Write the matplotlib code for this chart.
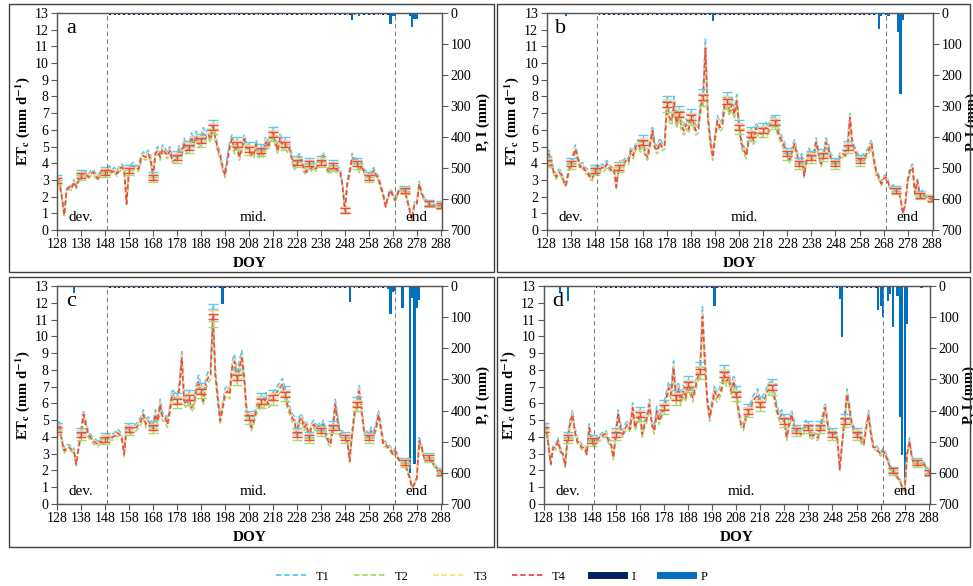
#Import packages
import numpy as np
import matplotlib
matplotlib.use('Agg')
import matplotlib.pyplot as plt
from matplotlib.patches import Rectangle
from matplotlib.lines import Line2D

plt.rcParams['font.family'] = ['Liberation Serif', 'DejaVu Serif']
plt.rcParams['mathtext.fontset'] = 'stix'

#-----DATA-----

#Day of year, 128 to 288
doy = np.arange(128, 289)

#Daily crop ET (mm/d)
et_a = [3.0, 2.9, 2.0, 0.9, 2.4, 2.6, 2.5, 2.9, 2.6, 3.0,
        3.3, 3.3, 3.4, 3.2, 3.4, 3.5, 3.3, 3.1, 3.4, 3.6,
        3.5, 3.6, 3.7, 3.5, 3.6, 3.4, 3.7, 3.8, 3.6, 1.6,
        3.6, 3.8, 3.9, 3.7, 3.7, 4.3, 4.5, 4.4, 4.6, 4.3,
        3.2, 4.6, 4.8, 4.4, 4.9, 4.7, 4.5, 4.8, 4.3, 4.2,
        4.4, 4.9, 4.6, 5.3, 4.8, 5.0, 5.6, 5.2, 5.7, 5.2,
        5.4, 5.9, 5.6, 5.8, 5.5, 6.2, 5.6, 4.9, 4.5, 3.8,
        3.3, 4.2, 5.1, 5.5, 4.8, 5.2, 4.4, 4.9, 5.5, 5.0,
        4.9, 4.6, 4.5, 5.2, 4.5, 4.8, 4.6, 5.4, 5.0, 5.5,
        5.8, 5.3, 4.8, 5.6, 5.1, 5.2, 4.9, 4.9, 4.3, 3.8,
        4.1, 4.4, 4.2, 3.6, 3.5, 4.0, 3.7, 3.9, 3.7, 4.0,
        4.1, 4.5, 3.9, 3.6, 3.5, 3.9, 3.7, 3.6, 3.6, 2.7,
        1.2, 2.8, 3.5, 4.4, 4.2, 4.0, 3.6, 3.9, 3.5, 3.4,
        3.2, 3.4, 3.6, 3.3, 3.1, 2.6, 2.1, 1.4, 2.0, 2.4,
        2.1, 1.8, 2.2, 2.5, 2.5, 2.4, 1.8, 1.2, 0.6, 1.6,
        1.6, 2.8, 2.2, 1.9, 1.8, 1.6, 1.5, 1.5, 1.4, 1.5, 1.5]

et_b = [4.1, 4.6, 4.0, 3.5, 3.2, 3.5, 3.4, 3.0, 2.7, 3.4,
        4.0, 4.4, 4.9, 4.3, 3.8, 3.9, 3.6, 3.5, 3.2, 3.1,
        3.6, 3.7, 3.6, 3.8, 3.7, 4.0, 3.8, 3.6, 3.7, 2.6,
        3.8, 4.1, 4.0, 4.2, 4.1, 4.8, 4.5, 5.0, 5.2, 4.9,
        5.3, 4.6, 4.4, 5.2, 6.0, 5.0, 4.8, 5.3, 5.0, 5.1,
        7.6, 6.8, 6.6, 7.7, 6.4, 7.0, 6.3, 6.0, 6.4, 6.1,
        6.8, 6.5, 6.0, 6.1, 7.4, 8.0, 11.0, 6.8, 5.4, 4.4,
        5.6, 6.6, 6.2, 6.4, 7.6, 7.8, 7.2, 7.6, 7.0, 7.8,
        6.2, 5.2, 4.8, 4.5, 5.5, 5.8, 5.4, 6.2, 5.9, 5.8,
        6.0, 6.2, 5.9, 6.4, 6.5, 6.5, 6.0, 5.6, 5.3, 5.0,
        4.6, 4.2, 4.8, 5.2, 4.6, 4.0, 4.4, 3.3, 4.2, 4.7,
        4.4, 4.5, 5.3, 4.6, 4.0, 4.5, 5.3, 5.0, 4.4, 4.2,
        4.0, 4.1, 4.5, 4.6, 4.5, 5.0, 6.8, 5.2, 4.8, 4.5,
        4.2, 4.3, 4.4, 4.6, 4.9, 5.2, 4.2, 3.4, 3.2, 2.8,
        3.1, 3.2, 2.8, 2.5, 2.6, 2.4, 2.5, 1.9, 1.0, 1.6,
        3.0, 3.6, 3.8, 2.2, 3.0, 2.1, 2.3, 2.0, 2.0, 1.9, 1.9]

et_c = [4.5, 4.8, 3.8, 3.2, 3.4, 3.4, 3.3, 3.2, 2.4, 3.4,
        4.2, 5.4, 4.8, 4.2, 4.0, 3.8, 3.7, 3.6, 3.8, 3.7,
        3.9, 3.9, 4.0, 4.0, 4.1, 4.3, 4.2, 4.0, 3.0, 4.6,
        4.5, 4.4, 4.5, 4.6, 4.8, 5.0, 5.4, 4.8, 5.0, 4.8,
        4.6, 5.4, 5.0, 6.0, 5.2, 5.2, 4.8, 5.6, 6.6, 6.4,
        6.2, 7.0, 8.8, 6.2, 6.0, 6.4, 5.8, 6.0, 6.8, 7.4,
        6.8, 6.2, 7.2, 7.6, 7.8, 11.3, 7.8, 6.4, 5.0, 5.8,
        6.6, 6.8, 6.6, 8.2, 8.6, 7.6, 8.2, 8.8, 7.6, 5.6,
        5.2, 4.6, 5.0, 5.6, 5.8, 6.2, 6.0, 6.4, 6.0, 6.2,
        6.4, 6.6, 6.8, 7.0, 7.2, 6.6, 6.0, 5.6, 5.2, 5.0,
        4.2, 5.0, 5.2, 4.6, 4.8, 4.0, 4.6, 4.8, 4.5, 4.7,
        4.4, 4.8, 4.2, 3.8, 3.6, 4.6, 6.0, 5.0, 4.2, 4.2,
        4.0, 3.8, 2.6, 4.2, 5.4, 6.0, 6.8, 5.6, 4.4, 4.2,
        4.0, 4.4, 4.2, 4.6, 5.4, 4.6, 3.6, 3.6, 3.4, 3.3,
        3.0, 3.2, 2.8, 2.6, 2.4, 2.5, 2.0, 1.6, 1.0, 1.2,
        1.6, 3.8, 3.4, 2.8, 2.6, 2.8, 2.6, 2.4, 2.2, 2.0, 1.9]

et_d = [4.5, 4.6, 3.6, 2.4, 3.4, 3.4, 3.8, 3.2, 3.0, 2.3,
        4.0, 4.8, 5.4, 4.4, 3.8, 3.6, 3.4, 3.4, 3.0, 4.6,
        3.8, 3.6, 3.8, 4.0, 4.0, 4.2, 4.2, 3.8, 3.6, 2.8,
        4.2, 5.4, 4.6, 4.2, 4.6, 4.8, 4.5, 5.8, 4.6, 5.0,
        5.4, 4.2, 4.8, 5.2, 6.0, 4.8, 4.4, 5.6, 5.0, 5.4,
        5.8, 6.4, 7.0, 6.6, 8.2, 6.4, 7.0, 6.2, 6.8, 6.4,
        7.2, 6.8, 6.4, 7.0, 7.6, 8.0, 11.3, 8.6, 6.2, 5.2,
        6.0, 6.8, 6.4, 6.6, 7.0, 7.8, 7.4, 7.6, 6.8, 7.4,
        6.6, 5.6, 4.8, 4.6, 5.2, 5.6, 5.8, 6.2, 6.4, 6.6,
        6.0, 6.2, 6.4, 6.8, 7.0, 7.0, 6.4, 5.6, 5.2, 5.4,
        5.0, 4.0, 4.8, 5.4, 4.8, 4.4, 4.6, 4.2, 4.4, 4.8,
        4.6, 4.0, 4.2, 4.0, 4.0, 4.6, 5.2, 5.8, 4.8, 4.2,
        4.2, 4.2, 4.0, 2.1, 3.6, 5.0, 6.6, 5.8, 4.8, 4.4,
        4.2, 4.2, 3.8, 3.6, 4.6, 5.4, 4.2, 3.4, 3.4, 3.2,
        3.0, 3.2, 3.0, 2.6, 2.2, 2.0, 1.8, 1.6, 1.4, 1.0,
        0.8, 3.0, 3.8, 2.8, 2.4, 2.5, 2.5, 2.4, 2.4, 2.2, 1.9]

#Treatment ratio to the panel series (T1 highest, T2 lowest)
treatments = ['T1', 'T2', 'T3', 'T4']
t_ratio = [1.04, 0.95, 1.01, 0.99]
t_colors = ['#5BC8F5', '#A8D86E', '#FFD980', '#F04848']

#Days with error bars and the error size
eb_doy = [128, 138, 148, 158, 168, 178, 183, 188, 193, 203, 208, 213,
          218, 223, 228, 233, 238, 243, 248, 253, 258, 273, 283, 288]
eb_err = 0.15

#Precipitation (day, mm)
p_doy_a = [251, 254, 267, 268, 269, 275, 276, 277, 278]
p_mm_a = [24, 9, 36, 11, 9, 9, 44, 20, 20]
p_doy_b = [136, 197, 266, 267, 269, 270, 274, 275, 276, 283]
p_mm_b = [10, 25, 53, 11, 5, 9, 61, 261, 22, 3]
p_doy_c = [135, 197, 250, 266, 267, 268, 269, 272, 275, 276, 277, 278, 279]
p_mm_c = [22, 58, 50, 10, 90, 20, 15, 70, 600, 40, 570, 70, 45]
p_doy_d = [135, 138, 199, 251, 252, 267, 268, 269, 271, 272, 273, 275, 276, 277, 278, 279, 285]
p_mm_d = [21, 48, 64, 43, 163, 78, 64, 98, 48, 27, 130, 32, 420, 542, 630, 122, 5]

#Irrigation days (small drip events)
i_doy = [150, 152, 154, 156, 158, 160, 162, 164, 166, 168, 170, 172, 174, 176,
         178, 180, 182, 184, 186, 188, 190, 192, 194, 196, 198, 200, 202, 204,
         206, 208, 210, 212, 214, 216, 218, 220, 222, 224, 226, 228, 230, 232,
         234, 236, 238, 240, 242, 244, 246, 248, 250, 252, 254, 256, 258, 260,
         262, 264, 266]
i_mm = 5

#Stage borders and labels
stage_lines = [149, 269]
stage_text = ['dev.', 'mid.', 'end']
stage_x = [138, 210, 278]

#-----PLOTTING-----

fig = plt.figure(figsize=(9.73, 5.86), dpi=100)

#Axes positions: left, bottom, width, height
positions = [[0.0586, 0.6075, 0.3957, 0.3703],
             [0.5617, 0.6075, 0.3972, 0.3703],
             [0.0586, 0.1399, 0.3957, 0.3720],
             [0.5586, 0.1399, 0.3972, 0.3720]]
boxes = [[0.0092, 0.5358, 0.4985, 0.4573],
         [0.5108, 0.5358, 0.4861, 0.4573],
         [0.0092, 0.0666, 0.4985, 0.4608],
         [0.5108, 0.0666, 0.4861, 0.4608]]

panels = [(et_a, 'a', p_doy_a, p_mm_a),
          (et_b, 'b', p_doy_b, p_mm_b),
          (et_c, 'c', p_doy_c, p_mm_c),
          (et_d, 'd', p_doy_d, p_mm_d)]

spine_col = '#595959'

for k, (et, letter, p_doy, p_mm) in enumerate(panels):
    #frame around each panel
    fig.patches.append(Rectangle(boxes[k][:2], boxes[k][2], boxes[k][3], transform=fig.transFigure,
                                 fill=False, edgecolor='#404040', linewidth=1.0))

    ax = fig.add_axes(positions[k])
    ax2 = ax.twinx()
    ax.set_zorder(ax2.get_zorder() + 1)
    ax.patch.set_visible(False)

    #Precipitation and irrigation bars hanging from the top
    ax2.bar(i_doy, [i_mm] * len(i_doy), width=0.8, color='#002060')
    ax2.bar(p_doy, p_mm, width=0.9, color='#0070C0')
    ax2.set_ylim(700, 0)
    ax2.set_yticks(np.arange(0, 701, 100))
    ax2.set_ylabel('P, I (mm)', fontsize=10.5, fontweight='bold', labelpad=4 if k % 2 == 0 else 2.5)

    #ET lines for each treatment
    et = np.array(et)
    for t, r, c in zip(treatments, t_ratio, t_colors):
        ax.plot(doy, et * r, color=c, linestyle=(0, (3, 1.6)), linewidth=1.2)
    idx = [list(doy).index(d) for d in eb_doy]
    for t, r, c in zip(treatments, t_ratio, t_colors):
        ax.errorbar(eb_doy, et[idx] * r, yerr=eb_err, fmt='none', ecolor=c,
                    elinewidth=1.0, capsize=3.5, capthick=1.0)

    #Stage borders
    for s in stage_lines:
        ax.axvline(s, color='#808080', linestyle=(0, (4, 3)), linewidth=0.8)
    for s, x in zip(stage_text, stage_x):
        ax.text(x, 0.75, s, ha='center', va='center', fontsize=11)
    ax.text(134, 12.1, letter, ha='center', va='center', fontsize=16)

    ax.set_xlim(128, 288.5)
    ax.set_ylim(0, 13)
    ax.set_xticks(np.arange(128, 289, 10))
    ax.set_yticks(np.arange(0, 14, 1))
    ax.set_xlabel('DOY', fontsize=11, fontweight='bold', labelpad=4)
    ax.set_ylabel(r'ET$_\mathbf{c}$ (mm d$^{\mathbf{-1}}$)', fontsize=10.5, fontweight='bold', labelpad=2)

    for a in (ax, ax2):
        a.tick_params(labelsize=10, length=4, width=0.8, color=spine_col, pad=2)
        for sp in a.spines.values():
            sp.set_color(spine_col)
            sp.set_linewidth(0.9)

#Legend at the bottom
handles = [Line2D([], [], color=c, linestyle=(0, (3, 1.6)), linewidth=1.3) for c in t_colors]
handles.append(Line2D([], [], color='#002060', linewidth=5))
handles.append(Line2D([], [], color='#0070C0', linewidth=5))
fig.legend(handles, treatments + ['I', 'P'], loc='center', bbox_to_anchor=(0.505, 0.016),
           ncol=6, frameon=False, fontsize=9, handlelength=2.6, columnspacing=2.0, handletextpad=0.6)

fig.savefig('out.png', dpi=100)
